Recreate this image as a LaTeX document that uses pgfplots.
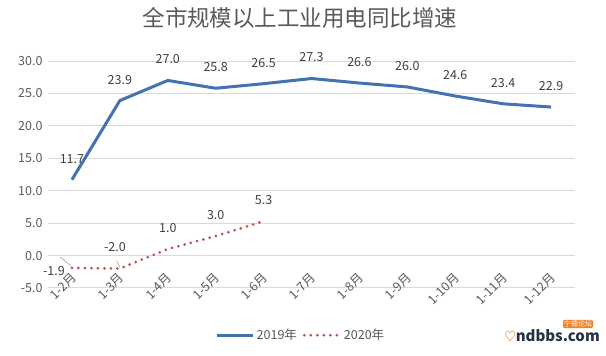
\documentclass[border=0pt]{standalone}
\usepackage{fontspec}
\setmainfont{Noto Sans CJK SC}
\usepackage{pgfplots}
\pgfplotsset{compat=1.18}
\definecolor{blueline}{RGB}{68,114,176}
\definecolor{redline}{RGB}{192,80,77}
\definecolor{txt}{RGB}{89,89,89}
\definecolor{lbl}{RGB}{64,64,64}
\definecolor{gridc}{RGB}{217,217,217}
\definecolor{wmorange}{RGB}{240,130,40}
\definecolor{wmdark}{RGB}{40,50,70}
\begin{document}
\begin{tikzpicture}[x=1pt,y=1pt]
\path[use as bounding box] (-48,-68) rectangle (558,288);
\begin{axis}[
  at={(0,0)}, anchor=south west,
  scale only axis, width=527pt, height=227pt,
  xmin=-0.5, xmax=10.5, ymin=-5, ymax=30,
  ytick={-5,0,5,10,15,20,25,30},
  xtick={0,...,10},
  xticklabels={1-2月,1-3月,1-4月,1-5月,1-6月,1-7月,1-8月,1-9月,1-10月,1-11月,1-12月},
  axis line style={draw=none},
  major tick length=0pt,
  ymajorgrids, grid style={gridc, line width=1pt},
  /pgf/number format/assume math mode=true,
  tick label style={font=\fontsize{12.5}{14}\selectfont, text=txt},
  y tick label style={/pgf/number format/fixed,/pgf/number format/fixed zerofill,/pgf/number format/precision=1, xshift=-2pt},
  x tick label style={xshift=-2pt, yshift=21pt, rotate=45, anchor=north east},
  clip=false,
  legend columns=2,
  legend style={draw=none, at={(0.48,-0.208)}, anchor=center, font=\fontsize{12.5}{14}\selectfont, text=txt,
    /tikz/every even column/.append style={column sep=4pt}},
  legend image code/.code={\draw[#1] (0pt,0pt) -- (36pt,0pt);},
  nodes near coords={\pgfmathprintnumber[fixed,fixed zerofill,precision=1]{\pgfplotspointmeta}},
  every node near coord/.append style={font=\fontsize{12.5}{14}\selectfont, text=lbl, anchor=center, yshift=21pt},
]
\addplot[blueline, line width=3pt, line join=round] coordinates {
(0,11.7) (1,23.9) (2,27.0) (3,25.8) (4,26.5) (5,27.3) (6,26.6) (7,26.0) (8,24.6) (9,23.4) (10,22.9)};
\addlegendentry{2019年}
\addplot[redline, line width=3pt, line cap=round, dash pattern=on 0pt off 6.5pt,
  coordinate style/.condition={\coordindex==0}{xshift=-18pt,yshift=-24pt},
  coordinate style/.condition={\coordindex==1}{xshift=-5pt}] coordinates {
(0,-1.9) (1,-2.0) (2,1.0) (3,3.0) (4,5.3)};
\addlegendentry{2020年}
\draw[gray!70, line width=0.6pt] (axis cs:-0.25,-0.2) -- (axis cs:-0.02,-1.6);
\draw[gray!70, line width=0.6pt] (axis cs:0.93,-0.8) -- (axis cs:1.0,-1.8);
\end{axis}
\node[text=txt, font=\fontsize{22.5}{26}\selectfont] at (252,270) {全市规模以上工业用电同比增速};
\node[text=wmdark, font=\bfseries\fontsize{15}{18}\selectfont, anchor=east, inner sep=0pt] at (552,-48) {\textcolor{wmorange}{$\heartsuit$}ndbbs.com};
\node[fill=wmorange, text=white, rounded corners=2pt, inner sep=1pt, font=\fontsize{7}{8}\selectfont] at (530,-36) {宁德论坛};
\end{tikzpicture}
\end{document}
